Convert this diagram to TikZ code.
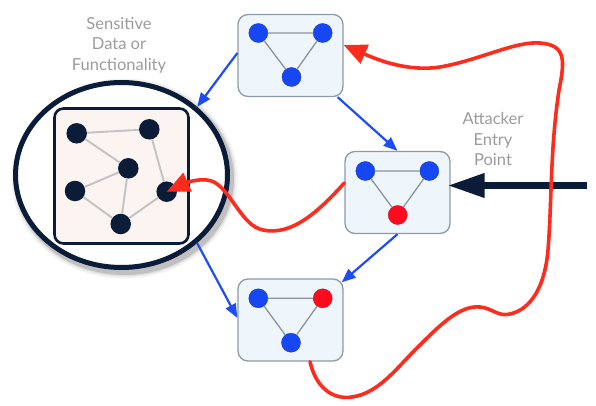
\documentclass[tikz,border=0pt]{standalone}
\usepackage{fontspec}
\setmainfont{Lato}
\usetikzlibrary{arrows.meta,shapes.geometric}
\definecolor{nodeblue}{HTML}{1747F2}
\definecolor{nodered}{HTML}{FF0B1E}
\definecolor{linered}{HTML}{FF2B1C}
\definecolor{arrblue}{HTML}{1E4DF5}
\definecolor{navy}{HTML}{0B1C38}
\definecolor{boxfill}{HTML}{EFF6FB}
\definecolor{boxline}{HTML}{8E99A8}
\definecolor{edgegray}{HTML}{8C939C}
\definecolor{inneredge}{HTML}{C2C2C2}
\definecolor{innerfill}{HTML}{FCF4F0}
\definecolor{txtgray}{HTML}{9B9B9B}
\begin{document}
\begin{tikzpicture}[x=1pt,y=-1pt,
  box/.style={draw=boxline,line width=1.3pt,fill=boxfill,rounded corners=10pt,minimum width=105pt,minimum height=82pt,inner sep=0pt},
  bnode/.style={circle,fill=nodeblue,draw=nodeblue!80!black,line width=0.4pt,minimum size=19pt,inner sep=0pt},
  rnode/.style={circle,fill=nodered,draw=nodered!80!black,line width=0.4pt,minimum size=19pt,inner sep=0pt},
  dnode/.style={circle,fill=navy,minimum size=20.5pt,inner sep=0pt},
  edge/.style={draw=edgegray,line width=1.3pt},
  iedge/.style={draw=inneredge,line width=1.9pt},
  barrow/.style={draw=arrblue,line width=2.2pt,-{Triangle[length=14pt,width=11pt]}},
  rarrow/.style={draw=linered,line width=3.6pt,line cap=round,-{Triangle[length=23pt,width=20pt]}},
  lbl/.style={text=txtgray,align=center,font=\fontsize{16.5}{20.5}\selectfont}
]
\useasboundingbox (0,0) rectangle (596,406);

% shadow of the big circle
\foreach \w/\o in {14/0.05,10/0.08,7/0.14}{
  \draw[black,opacity=\o,line width=\w pt] (124.5,178.5) ellipse [x radius=106pt,y radius=93pt];
}

% boxes
\node[box] (top) at (290.5,55.5) {};
\node[box] (mid) at (397.5,192.5) {};
\node[box] (bot) at (290.5,320) {};

% big circle
\node[draw=navy,line width=5pt,fill=white,ellipse,minimum width=212pt,minimum height=185pt,inner sep=0pt] (circ) at (121.5,175) {};
\node[draw=navy,line width=2.6pt,fill=innerfill,rounded corners=9pt,minimum width=134pt,minimum height=135pt,inner sep=0pt] (inner) at (121.5,176) {};

% top triangle
\node[bnode] (t1) at (258.3,33) {};
\node[bnode] (t2) at (322.7,33) {};
\node[bnode] (t3) at (291.5,77) {};
% middle triangle
\node[bnode] (m1) at (365.3,171) {};
\node[bnode] (m2) at (429.3,171) {};
\node[rnode] (m3) at (397.7,215) {};
% bottom triangle
\node[bnode] (b1) at (258.3,298.3) {};
\node[rnode] (b2) at (322.7,298.3) {};
\node[bnode] (b3) at (291,342.7) {};

% inner network
\node[dnode] (s1) at (76.7,133.3) {};
\node[dnode] (s2) at (149.3,129.3) {};
\node[dnode] (s3) at (128.3,168.3) {};
\node[dnode] (s4) at (75,191) {};
\node[dnode] (s5) at (166.7,191.7) {};
\node[dnode] (s6) at (120.7,224) {};

% edges
\path[edge] (t1) -- (t2) (t1) -- (t3) (t2) -- (t3);
\path[edge] (m1) -- (m2) (m1) -- (m3) (m2) -- (m3);
\path[edge] (b1) -- (b2) (b1) -- (b3) (b2) -- (b3);
\path[iedge] (s1) -- (s2) (s1) -- (s3) (s2) -- (s5) (s3) -- (s4) (s3) -- (s6) (s4) -- (s6) (s6) -- (s5);

% blue arrows
\draw[barrow] ([yshift=2.5pt]top.west) -- (circ.42);
\draw[barrow] ([xshift=-6pt]top.south east) -- (mid.north);
\draw[barrow] (mid.south) -- ([xshift=-2pt,yshift=-4pt]bot.north east);
\draw[barrow] (circ.-42) -- ([yshift=2pt]bot.west);

% attacker arrow
\coordinate (entry) at (587,185.5);
\draw[navy,line width=7pt,shorten >=-3pt,-{Triangle[length=37pt,width=23pt]}] (entry) -- ([yshift=7pt]mid.east);

% red paths
\draw[rarrow] ([yshift=9.5pt]mid.west) .. controls (318,212) and (292,236) .. (263,230)
  .. controls (242,226) and (232,192) .. (214,182)
  .. controls (204,177) and (188,182) .. (s5.center);
\draw[rarrow] ([xshift=19.5pt]bot.south) .. controls (316,388) and (333,400) .. (352,397)
  .. controls (380,393) and (398,366) .. (420,345)
  .. controls (440,325) and (460,305) .. (480,307)
  .. controls (492,308) and (498,317) .. (510,314)
  .. controls (532,309) and (545,285) .. (548,250)
  .. controls (552,200) and (550,150) .. (559,90)
  .. controls (565,60) and (566,45) .. (540,43)
  .. controls (515,41) and (480,60) .. (440,67)
  .. controls (408,72) and (378,60) .. ([yshift=10.5pt]top.east);

% labels
\node[lbl] (sens) at (119,45) {Sensitive\\Data or\\Functionality};
\node[lbl] (att) at (493,139) {Attacker\\Entry\\Point};
\end{tikzpicture}
\end{document}
